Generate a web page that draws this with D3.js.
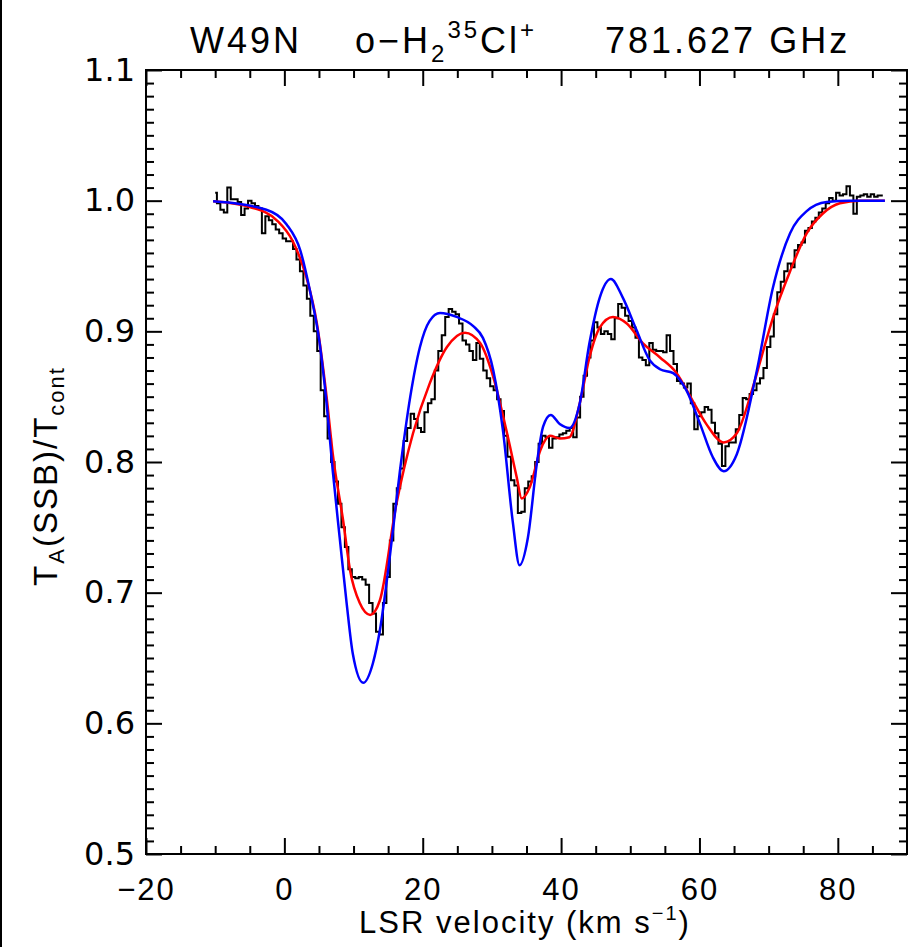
<!DOCTYPE html>
<html>
<head>
<meta charset="utf-8">
<script src="https://d3js.org/d3.v7.min.js"></script>
<style>
  body { margin: 0; background: #fff; }
  .xaxis text { font-family: "Liberation Sans", sans-serif; font-size: 31px; letter-spacing: 2px; }
  .yaxis text { font-family: "DejaVu Sans", sans-serif; font-size: 32px; }
  .lbl { font-family: "Liberation Sans", sans-serif; fill: #000; }
</style>
</head>
<body>
<script>

// observed spectrum: channel velocities (km/s) and line/continuum ratio
var velocity = [
  -10.0, -9.5, -9.0, -8.5, -8.0, -7.5, -7.0, -6.5, -6.0, -5.5, -5.0, -4.5, -4.0, -3.5, -3.0, -2.5, -2.0, -1.5, -1.0, -0.5,
  0.0, 0.5, 1.0, 1.5, 2.0, 2.5, 3.0, 3.5, 4.0, 4.5, 5.0, 5.5, 6.0, 6.5, 7.0, 7.5, 8.0, 8.5, 9.0, 9.5,
  10.0, 10.5, 11.0, 11.5, 12.0, 12.5, 13.0, 13.5, 14.0, 14.5, 15.0, 15.5, 16.0, 16.5, 17.0, 17.5, 18.0, 18.5, 19.0, 19.5,
  20.0, 20.5, 21.0, 21.5, 22.0, 22.5, 23.0, 23.5, 24.0, 24.5, 25.0, 25.5, 26.0, 26.5, 27.0, 27.5, 28.0, 28.5, 29.0, 29.5,
  30.0, 30.5, 31.0, 31.5, 32.0, 32.5, 33.0, 33.5, 34.0, 34.5, 35.0, 35.5, 36.0, 36.5, 37.0, 37.5, 38.0, 38.5, 39.0, 39.5,
  40.0, 40.5, 41.0, 41.5, 42.0, 42.5, 43.0, 43.5, 44.0, 44.5, 45.0, 45.5, 46.0, 46.5, 47.0, 47.5, 48.0, 48.5, 49.0, 49.5,
  50.0, 50.5, 51.0, 51.5, 52.0, 52.5, 53.0, 53.5, 54.0, 54.5, 55.0, 55.5, 56.0, 56.5, 57.0, 57.5, 58.0, 58.5, 59.0, 59.5,
  60.0, 60.5, 61.0, 61.5, 62.0, 62.5, 63.0, 63.5, 64.0, 64.5, 65.0, 65.5, 66.0, 66.5, 67.0, 67.5, 68.0, 68.5, 69.0, 69.5,
  70.0, 70.5, 71.0, 71.5, 72.0, 72.5, 73.0, 73.5, 74.0, 74.5, 75.0, 75.5, 76.0, 76.5, 77.0, 77.5, 78.0, 78.5, 79.0, 79.5,
  80.0, 80.5, 81.0, 81.5, 82.0, 82.5, 83.0, 83.5, 84.0, 84.5, 85.0, 85.5, 86.0, 86.5
];
var observed = [
  1.006, 0.998, 0.993, 0.991, 1.010, 1.001, 1.001, 0.999, 0.989, 0.994, 1.000, 0.998, 0.996, 0.994, 0.975, 0.988, 0.985, 0.982, 0.978, 0.975,
  0.971, 0.969, 0.969, 0.963, 0.955, 0.946, 0.935, 0.925, 0.912, 0.900, 0.885, 0.855, 0.835, 0.818, 0.800, 0.785, 0.768, 0.750, 0.735, 0.718,
  0.712, 0.711, 0.712, 0.710, 0.706, 0.692, 0.684, 0.670, 0.668, 0.692, 0.712, 0.740, 0.768, 0.780, 0.795, 0.816, 0.826, 0.837, 0.833, 0.826,
  0.823, 0.838, 0.845, 0.848, 0.870, 0.885, 0.897, 0.911, 0.917, 0.915, 0.913, 0.906, 0.893, 0.890, 0.885, 0.878, 0.891, 0.879, 0.870, 0.864,
  0.858, 0.855, 0.848, 0.839, 0.820, 0.804, 0.786, 0.782, 0.761, 0.762, 0.780, 0.785, 0.789, 0.800, 0.814, 0.820, 0.819, 0.811, 0.818, 0.819,
  0.821, 0.822, 0.824, 0.826, 0.819, 0.834, 0.850, 0.866, 0.880, 0.893, 0.907, 0.903, 0.898, 0.900, 0.898, 0.894, 0.910, 0.921, 0.918, 0.912,
  0.908, 0.903, 0.895, 0.880, 0.878, 0.874, 0.891, 0.886, 0.885, 0.885, 0.884, 0.897, 0.885, 0.875, 0.862, 0.860, 0.857, 0.860, 0.845, 0.825,
  0.835, 0.838, 0.842, 0.840, 0.830, 0.822, 0.814, 0.797, 0.812, 0.815, 0.815, 0.825, 0.836, 0.849, 0.848, 0.852, 0.855, 0.860, 0.864, 0.872,
  0.888, 0.896, 0.913, 0.930, 0.938, 0.946, 0.952, 0.949, 0.962, 0.966, 0.968, 0.977, 0.979, 0.984, 0.987, 0.991, 0.994, 0.998, 1.002, 1.000,
  1.006, 1.004, 1.005, 1.011, 1.004, 0.990, 1.003, 1.004, 1.005, 1.003, 1.005, 1.003, 1.004, 1.004
];

// red fit
var redV = [-10.3, -4.9, -1.1, 1.2, 3.2, 4.7, 6.1, 7.0, 8.5, 9.5, 10.9, 12.4, 13.8, 16.2, 18.6, 21.0, 23.5, 26.1, 28.3, 30.2,
  32.1, 33.6, 34.3, 35.5, 37.0, 38.4, 39.8, 41.2, 42.7, 44.1, 45.6, 47.5, 49.5, 51.8, 54.3, 56.7, 59.0, 61.0, 63.5, 65.4,
  67.6, 69.0, 70.6, 73.1, 75.5, 77.8, 80.3, 83.2, 86.8];
var redT = [0.9995, 0.995, 0.985, 0.969, 0.941, 0.906, 0.850, 0.806, 0.755, 0.717, 0.692, 0.683, 0.694, 0.768, 0.822, 0.860, 0.888, 0.899, 0.891, 0.865,
  0.824, 0.788, 0.772, 0.781, 0.809, 0.820, 0.818, 0.819, 0.845, 0.880, 0.903, 0.911, 0.906, 0.891, 0.880, 0.868, 0.847, 0.829, 0.815, 0.822,
  0.855, 0.881, 0.910, 0.946, 0.975, 0.990, 0.998, 1.000, 1.000];

// blue fit
var blueV = [-10.3, -2.6, 0.3, 2.3, 3.7, 5.1, 6.1, 7.0, 8.0, 9.0, 9.9, 11.4, 12.8, 13.8, 15.3, 16.7, 18.2, 19.6, 21.0, 22.5,
  24.9, 27.3, 28.7, 30.2, 31.6, 33.0, 34.0, 35.2, 36.5, 37.4, 38.5, 39.8, 41.2, 42.7, 44.1, 45.6, 47.2, 48.9, 50.9, 52.8,
  54.3, 56.2, 58.1, 60.1, 61.9, 63.5, 65.4, 68.3, 70.6, 73.1, 75.5, 78.4, 81.7, 86.8];
var blueT = [0.9995, 0.993, 0.982, 0.962, 0.931, 0.891, 0.845, 0.793, 0.742, 0.692, 0.653, 0.631, 0.646, 0.671, 0.730, 0.793, 0.850, 0.888, 0.908, 0.914,
  0.911, 0.904, 0.895, 0.870, 0.824, 0.755, 0.721, 0.742, 0.799, 0.827, 0.836, 0.829, 0.826, 0.845, 0.891, 0.926, 0.940, 0.926, 0.901, 0.878,
  0.871, 0.868, 0.855, 0.829, 0.804, 0.793, 0.806, 0.870, 0.933, 0.975, 0.992, 0.999, 1.000, 1.000];

var xTicks = [-20, 0, 20, 40, 60, 80];
var yTicks = [0.5, 0.6, 0.7, 0.8, 0.9, 1.0, 1.1];

var W = 908, H = 947;
var margin = {top: 70, right: 1, bottom: 93, left: 146};

var svg = d3.select("body").append("svg")
  .attr("width", W).attr("height", H);

var x = d3.scaleLinear().domain([-20, 90]).range([margin.left, W - margin.right]);
var y = d3.scaleLinear().domain([0.5, 1.1]).range([H - margin.bottom, margin.top]);

// image border on the left
svg.append("line").attr("x1", 1).attr("x2", 1).attr("y1", 0).attr("y2", H)
  .attr("stroke", "#000").attr("stroke-width", 2);

var xMinor = d3.range(-20, 91, 5).filter(function(d) { return d % 20 !== 0; });
var yMinor = d3.range(50, 111).filter(function(d) { return d % 10 !== 0; }).map(function(d) { return d / 100; });

function styleAxis(g) {
  g.select(".domain").remove();
  g.selectAll(".tick line").attr("stroke", "#000").attr("stroke-width", 2);
}

var plotBottom = y(0.5), plotTop = y(1.1), plotLeft = x(-20), plotRight = x(90);

// bottom axis
svg.append("g").attr("class", "xaxis").attr("transform", "translate(0," + plotBottom + ")")
  .call(d3.axisBottom(x).tickValues(xTicks).tickSizeInner(-16).tickSizeOuter(0).tickPadding(24))
  .call(styleAxis);
svg.append("g").attr("transform", "translate(0," + plotBottom + ")")
  .call(d3.axisBottom(x).tickValues(xMinor).tickSizeInner(-8).tickSizeOuter(0).tickFormat(""))
  .call(styleAxis);
// top axis
svg.append("g").attr("transform", "translate(0," + plotTop + ")")
  .call(d3.axisTop(x).tickValues(xTicks).tickSizeInner(-16).tickSizeOuter(0).tickFormat(""))
  .call(styleAxis);
svg.append("g").attr("transform", "translate(0," + plotTop + ")")
  .call(d3.axisTop(x).tickValues(xMinor).tickSizeInner(-8).tickSizeOuter(0).tickFormat(""))
  .call(styleAxis);
// left axis
svg.append("g").attr("class", "yaxis").attr("transform", "translate(" + plotLeft + ",0)")
  .call(d3.axisLeft(y).tickValues(yTicks).tickSizeInner(-16).tickSizeOuter(0).tickPadding(11).tickFormat(d3.format(".1f")))
  .call(styleAxis);
svg.append("g").attr("transform", "translate(" + plotLeft + ",0)")
  .call(d3.axisLeft(y).tickValues(yMinor).tickSizeInner(-8).tickSizeOuter(0).tickFormat(""))
  .call(styleAxis);
// right axis
svg.append("g").attr("transform", "translate(" + plotRight + ",0)")
  .call(d3.axisRight(y).tickValues(yTicks).tickSizeInner(-16).tickSizeOuter(0).tickFormat(""))
  .call(styleAxis);
svg.append("g").attr("transform", "translate(" + plotRight + ",0)")
  .call(d3.axisRight(y).tickValues(yMinor).tickSizeInner(-8).tickSizeOuter(0).tickFormat(""))
  .call(styleAxis);

svg.selectAll(".xaxis text").attr("fill", "#000");
svg.selectAll(".yaxis text").attr("fill", "#000");

// frame
svg.append("rect")
  .attr("x", plotLeft).attr("y", plotTop).attr("width", plotRight - plotLeft).attr("height", plotBottom - plotTop)
  .attr("fill", "none").attr("stroke", "#000").attr("stroke-width", 2);

// spectrum (histogram style)
var obs = velocity.map(function(v, i) { return [v, observed[i]]; });
svg.append("path").datum(obs)
  .attr("fill", "none").attr("stroke", "#000").attr("stroke-width", 2)
  .attr("d", d3.line().x(function(d) { return x(d[0]); }).y(function(d) { return y(d[1]); }).curve(d3.curveStep));

var smooth = d3.line().x(function(d) { return x(d[0]); }).y(function(d) { return y(d[1]); }).curve(d3.curveMonotoneX);

svg.append("path").datum(redV.map(function(v, i) { return [v, redT[i]]; }))
  .attr("fill", "none").attr("stroke", "#ff0000").attr("stroke-width", 2.5).attr("d", smooth);
svg.append("path").datum(blueV.map(function(v, i) { return [v, blueT[i]]; }))
  .attr("fill", "none").attr("stroke", "#0000ff").attr("stroke-width", 2.5).attr("d", smooth);

// title
var title = svg.append("text").attr("class", "lbl").attr("y", 53)
  .style("font-size", "36px").style("letter-spacing", "3px");
title.append("tspan").attr("x", 190).text("W49N");
title.append("tspan").attr("x", 355).text("o\u2212H");
title.append("tspan").attr("dy", 9).style("font-size", "24px").text("2");
title.append("tspan").attr("dy", -24).style("font-size", "24px").text("35");
title.append("tspan").attr("dy", 15).text("Cl");
title.append("tspan").attr("dy", -15).style("font-size", "24px").text("+");
title.append("tspan").attr("x", 605).attr("dy", 15).text("781.627 GHz");

// x axis title
var xl = svg.append("text").attr("class", "lbl").attr("x", 525).attr("y", 933)
  .attr("text-anchor", "middle").style("font-size", "31px").style("letter-spacing", "2px");
xl.append("tspan").text("LSR velocity (km s");
xl.append("tspan").attr("dy", -13).style("font-size", "20px").text("\u22121");
xl.append("tspan").attr("dy", 13).text(")");

// y axis title
var yl = svg.append("text").attr("class", "lbl")
  .attr("transform", "translate(57,476) rotate(-90)")
  .attr("text-anchor", "middle").style("font-size", "33px").style("letter-spacing", "2px");
yl.append("tspan").text("T");
yl.append("tspan").attr("dy", 7).style("font-size", "22px").text("A");
yl.append("tspan").attr("dy", -7).text("(SSB)/T");
yl.append("tspan").attr("dy", 7).style("font-size", "22px").text("cont");

</script>
</body>
</html>
